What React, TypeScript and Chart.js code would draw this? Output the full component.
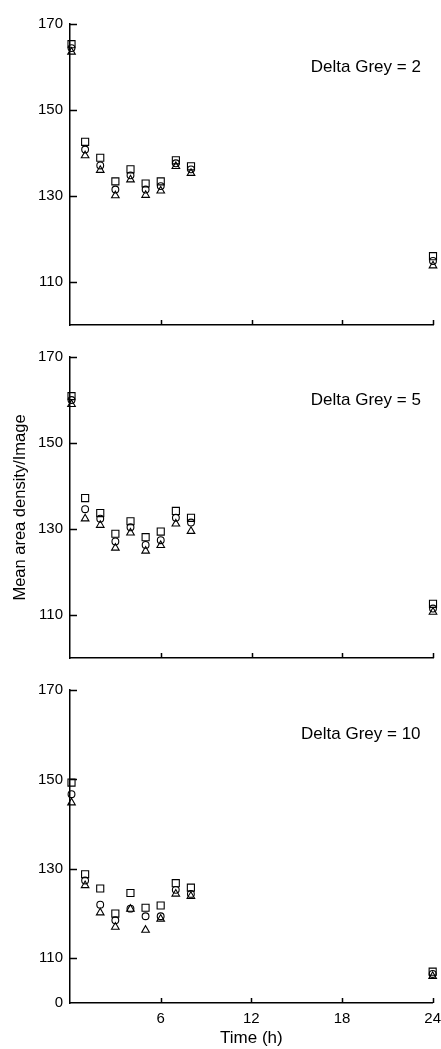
import React, { useEffect, useRef } from "react";
import { Chart, registerables } from "chart.js";
Chart.register(...registerables);

// Time points (h)
const TIMES = [0.1, 1, 2, 3, 4, 5, 6, 7, 8, 24];
const X_TICKS = [6, 12, 18, 24];
const Y_TICKS = [110, 130, 150, 170];
const Y_TICKS_BROKEN = [100, 110, 130, 150, 170];

// Panel 1: Delta Grey = 2
const P1_SQUARE = [165.3, 142.6, 138.9, 133.4, 136.2, 132.9, 133.4, 138.3, 136.9, 116.0];
const P1_CIRCLE = [164.4, 140.8, 137.1, 131.5, 134.8, 131.5, 132.3, 137.6, 136.2, 114.9];
const P1_TRIANGLE = [163.5, 139.4, 136.0, 130.1, 133.8, 130.2, 131.2, 136.9, 135.3, 113.8];

// Panel 2: Delta Grey = 5
const P2_SQUARE = [160.9, 137.2, 133.7, 128.9, 131.8, 128.1, 129.4, 134.2, 132.6, 112.6];
const P2_CIRCLE = [160.0, 134.6, 132.4, 127.1, 130.4, 126.3, 127.4, 132.6, 131.5, 111.5];
const P2_TRIANGLE = [159.0, 132.4, 130.9, 125.6, 129.1, 124.9, 126.2, 131.2, 129.5, 110.7];

// Panel 3: Delta Grey = 10
const P3_SQUARE = [149.3, 128.8, 125.6, 120.0, 124.6, 121.3, 121.8, 126.8, 125.8, 107.0];
const P3_CIRCLE = [146.7, 127.4, 122.0, 118.5, 121.1, 119.4, 119.4, 125.3, 124.4, 106.5];
const P3_TRIANGLE = [144.8, 126.3, 120.2, 117.0, 121.0, 116.3, 118.8, 124.4, 123.9, 106.0];

const PANEL_LABELS = ["Delta Grey = 2", "Delta Grey = 5", "Delta Grey = 10"];
const Y_TITLE = "Mean area density/Image";
const X_TITLE = "Time (h)";

const FONT = '"Liberation Sans", Arial, Helvetica, sans-serif';

type PanelProps = {
  top: number;
  width: number;
  height: number;
  padTop: number;
  squares: number[];
  circles: number[];
  triangles: number[];
  label: string;
  showYTitle: boolean;
  bottom: boolean;
};

function toPoints(vals: number[]) {
  return vals.map((v, i) => ({ x: TIMES[i], y: v }));
}

function Panel(props: PanelProps) {
  const ref = useRef<HTMLCanvasElement | null>(null);
  useEffect(() => {
    if (!ref.current) return;
    const { squares, circles, triangles, label, showYTitle, bottom, padTop } = props;
    const yTickVals = bottom ? Y_TICKS_BROKEN : Y_TICKS;
    const common = {
      backgroundColor: "rgba(0,0,0,0)",
      borderColor: "#000",
      borderWidth: 1.1,
      showLine: false,
      clip: false as const,
    };
    const decor = {
      id: "decor",
      afterDraw(chart: any) {
        const ctx = chart.ctx;
        const xs = chart.scales.x;
        const ys = chart.scales.y;
        const area = chart.chartArea;
        ctx.save();
        ctx.strokeStyle = "#000";
        ctx.lineWidth = 1.5;
        ctx.beginPath();
        for (const v of Y_TICKS) {
          const py = Math.round(ys.getPixelForValue(v)) + 0.5;
          ctx.moveTo(area.left, py);
          ctx.lineTo(area.left + 7, py);
        }
        for (const v of X_TICKS) {
          const px = Math.round(xs.getPixelForValue(v)) + 0.5;
          ctx.moveTo(px, area.bottom);
          ctx.lineTo(px, area.bottom - 5);
        }
        ctx.stroke();
        ctx.fillStyle = "#000";
        ctx.font = "17px " + FONT;
        ctx.textAlign = "right";
        ctx.textBaseline = "middle";
        ctx.fillText(label, xs.getPixelForValue(23.2), ys.getPixelForValue(160));
        ctx.restore();
      },
    };
    const chart = new Chart(ref.current, {
      type: "scatter",
      data: {
        datasets: [
          { ...common, data: toPoints(squares), pointStyle: "rect", pointRadius: 5 },
          { ...common, data: toPoints(circles), pointStyle: "circle", pointRadius: 3.4 },
          { ...common, data: toPoints(triangles), pointStyle: "triangle", pointRadius: 4.4 },
        ],
      },
      options: {
        responsive: false,
        animation: false,
        layout: { padding: { top: padTop, right: bottom ? 0 : 8, bottom: bottom ? 0 : 2, left: 0 } },
        plugins: { legend: { display: false }, tooltip: { enabled: false } },
        scales: {
          x: {
            type: "linear",
            min: 0,
            max: 24,
            afterBuildTicks: (s: any) => {
              s.ticks = X_TICKS.map((v) => ({ value: v }));
            },
            afterFit: (s: any) => {
              s.height = bottom ? 46 : 0;
            },
            grid: { display: false, drawTicks: false },
            border: { display: true, color: "#000", width: 1.5 },
            ticks: {
              display: bottom,
              color: "#000",
              padding: 7,
              maxRotation: 0,
              font: { size: 15, family: FONT },
            },
            title: {
              display: bottom,
              text: X_TITLE,
              color: "#000",
              padding: { top: 0, bottom: 0 },
              font: { size: 17, family: FONT },
            },
          },
          y: {
            type: "linear",
            min: 100,
            max: 170,
            afterBuildTicks: (s: any) => {
              s.ticks = yTickVals.map((v) => ({ value: v }));
            },
            afterFit: (s: any) => {
              s.width = 62;
            },
            grid: { display: false, drawTicks: false },
            border: { display: true, color: "#000", width: 1.5 },
            ticks: {
              color: "#000",
              padding: 7,
              font: { size: 15, family: FONT },
              callback: (v: any) => (Number(v) === 100 ? "0" : String(v)),
            },
            title: {
              display: showYTitle,
              text: Y_TITLE,
              color: "#000",
              padding: { top: 3, bottom: 0 },
              font: { size: 16.5, family: FONT },
            },
          },
        },
      },
      plugins: [decor],
    } as any);
    return () => chart.destroy();
  }, []);
  return (
    <div style={{ position: "absolute", left: 8, top: props.top, width: props.width, height: props.height }}>
      <canvas ref={ref} width={props.width} height={props.height} style={{ display: "block" }} />
    </div>
  );
}

export default function App() {
  return (
    <div
      style={{
        position: "fixed",
        left: 0,
        top: 0,
        width: 441,
        height: 1049,
        background: "#fff",
        overflow: "hidden",
      }}
    >
      <Panel top={8} width={433} height={333} padTop={13} squares={P1_SQUARE} circles={P1_CIRCLE} triangles={P1_TRIANGLE} label={PANEL_LABELS[0]} showYTitle={false} bottom={false} />
      <Panel top={341} width={433} height={333} padTop={13} squares={P2_SQUARE} circles={P2_CIRCLE} triangles={P2_TRIANGLE} label={PANEL_LABELS[1]} showYTitle={true} bottom={false} />
      <Panel top={674} width={440} height={375} padTop={14} squares={P3_SQUARE} circles={P3_CIRCLE} triangles={P3_TRIANGLE} label={PANEL_LABELS[2]} showYTitle={false} bottom={true} />
    </div>
  );
}
